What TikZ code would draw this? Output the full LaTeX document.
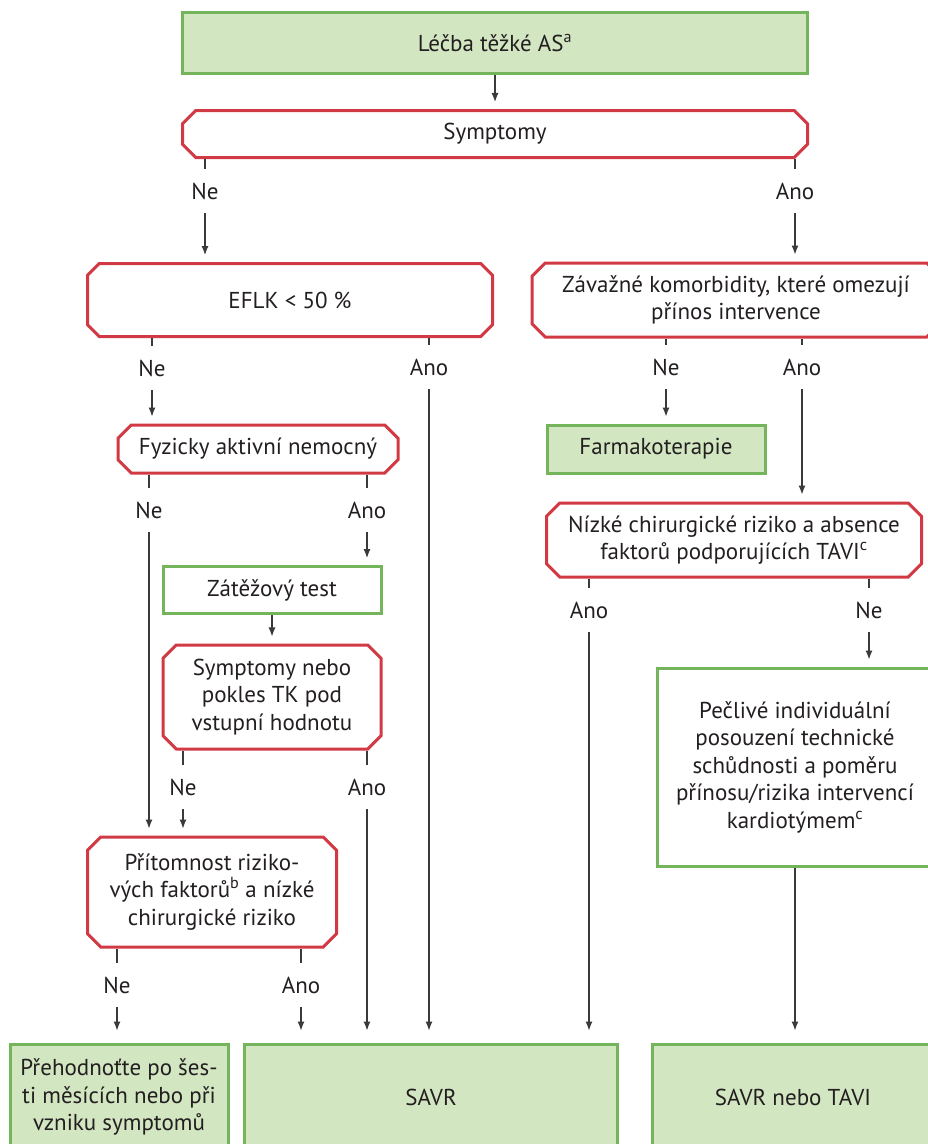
\documentclass[tikz,border=0pt]{standalone}
\usepackage{fontspec}
\setmainfont{PT Sans}
\usepackage{xcolor}
\usepackage{tikz}
\usetikzlibrary{shapes.misc,arrows.meta}
\definecolor{zelena}{HTML}{D3E6C2}
\definecolor{zelenacara}{HTML}{74B45A}
\definecolor{cervena}{HTML}{D13A44}
\definecolor{pismo}{HTML}{231F20}
\definecolor{cara}{HTML}{3A3A3A}
\tikzstyle{greenbox} = [draw=zelenacara, line width=3pt, rectangle, fill=zelena, align=center, inner sep=0pt, text=pismo]
\tikzstyle{whitebox} = [draw=zelenacara, line width=3pt, rectangle, fill=white, align=center, inner sep=0pt, text=pismo]
\tikzstyle{redbox} = [draw=cervena, line width=3pt, chamfered rectangle, chamfered rectangle xsep=10pt, fill=white, align=center, inner sep=0pt, text=pismo]
\tikzstyle{answer} = [minimum height=44pt, inner sep=0pt, text=pismo]
\tikzstyle{conn} = [draw=cara, line width=1.2pt]
\tikzstyle{arr} = [conn, -{Latex[length=9pt,width=7pt]}, shorten >=7pt]
\tikzstyle{arrlong} = [arr, shorten >=12pt]

\begin{document}
\begin{tikzpicture}[x=1pt, y=-1pt, font=\fontsize{23}{27.5}\selectfont]
	\useasboundingbox (0,0) rectangle (928,1144);
	% boxes
	\node [greenbox, minimum width=625pt, minimum height=61pt] (lecba) at (495,43) {Léčba těžké AS\textsuperscript{a}};
	\node [redbox, minimum width=625pt, minimum height=47pt] (sympt) at (495,134) {Symptomy};
	\node [redbox, minimum width=405pt, minimum height=73pt] (eflk) at (290,300) {EFLK < 50 \%};
	\node [redbox, minimum width=408pt, minimum height=74pt] (komorb) at (736,300) {Závažné komorbidity, které omezují\\přínos intervence};
	\node [redbox, minimum width=280pt, minimum height=48pt] (fyz) at (258,449) {Fyzicky aktivní nemocný};
	\node [greenbox, minimum width=218pt, minimum height=48pt] (farm) at (656,449) {Farmakoterapie};
	\node [redbox, minimum width=375pt, minimum height=74pt] (nizke) at (734,540) {Nízké chirurgické riziko a absence\\faktorů podporujících TAVI\textsuperscript{c}};
	\node [whitebox, minimum width=218pt, minimum height=47pt] (zatez) at (272,590) {Zátěžový test};
	\node [redbox, minimum width=218pt, minimum height=104pt] (symtk) at (272,697) {Symptomy nebo\\pokles TK pod\\vstupní hodnotu};
	\node [whitebox, minimum width=276pt, minimum height=198pt] (pecl) at (795,767) {Pečlivé individuální\\posouzení technické\\schůdnosti a poměru\\přínosu/rizika intervencí\\kardiotýmem\textsuperscript{c}};
	\node [redbox, minimum width=249pt, minimum height=110pt] (rizf) at (212,892) {Přítomnost riziko-\\vých faktorů\textsuperscript{b} a nízké\\chirurgické riziko};
	\node [greenbox, minimum width=218pt, minimum height=106pt] (preh) at (119,1097) {Přehodnoťte po šes-\\ti měsících nebo při\\vzniku symptomů};
	\node [greenbox, minimum width=373pt, minimum height=106pt] (savr) at (431,1097) {SAVR};
	\node [greenbox, minimum width=282pt, minimum height=106pt] (tavi) at (793,1097) {SAVR nebo TAVI};
	% odpovedi
	\node [answer] (symne) at (205,191) {Ne};
	\node [answer] (symano) at (795,191) {Ano};
	\node [answer] (eflkne) at (152,368) {Ne};
	\node [answer] (eflkano) at (429,367) {Ano};
	\node [answer] (komne) at (666,367) {Ne};
	\node [answer] (komano) at (802,367) {Ano};
	\node [answer] (fyzne) at (149,510) {Ne};
	\node [answer] (fyzano) at (367,510) {Ano};
	\node [answer] (nizano) at (589,610) {Ano};
	\node [answer] (nizne) at (869,610) {Ne};
	\node [answer] (tkne) at (183,787) {Ne};
	\node [answer] (tkano) at (367,787) {Ano};
	\node [answer] (rizne) at (117,985) {Ne};
	\node [answer] (rizano) at (301,985) {Ano};
	% spojnice
	\draw [arr] (lecba) -- (sympt);
	\draw [conn] (sympt.south -| symne) -- (symne.north);
	\draw [arr] (symne.south) -- (eflk.north -| symne);
	\draw [conn] (sympt.south -| symano) -- (symano.north);
	\draw [arr] (symano.south) -- (komorb.north -| symano);
	\draw [conn] (eflk.south -| eflkne) -- (eflkne.north);
	\draw [arr] (eflkne.south) -- (fyz.north -| eflkne);
	\draw [conn] (eflk.south -| eflkano) -- (eflkano.north);
	\draw [arrlong] (eflkano.south) -- (savr.north -| eflkano);
	\draw [conn] (komorb.south -| komne) -- (komne.north);
	\draw [arr] (komne.south) -- (farm.north -| komne);
	\draw [conn] (komorb.south -| komano) -- (komano.north);
	\draw [arr] (komano.south) -- (nizke.north -| komano);
	\draw [conn] (fyz.south -| fyzne) -- (fyzne.north);
	\draw [arr] (fyzne.south) -- (rizf.north -| fyzne);
	\draw [conn] (fyz.south -| fyzano) -- (fyzano.north);
	\draw [arr] (fyzano.south) -- (zatez.north -| fyzano);
	\draw [arr] (zatez) -- (symtk);
	\draw [conn] (nizke.south -| nizano) -- (nizano.north);
	\draw [arrlong] (nizano.south) -- (savr.north -| nizano);
	\draw [conn] (nizke.south -| nizne) -- (nizne.north);
	\draw [arr] (nizne.south) -- (pecl.north -| nizne);
	\draw [arrlong] (pecl.south) -- (tavi.north -| pecl.south);
	\draw [conn] (symtk.south -| tkne) -- (tkne.north);
	\draw [arr] (tkne.south) -- (rizf.north -| tkne);
	\draw [conn] (symtk.south -| tkano) -- (tkano.north);
	\draw [arrlong] (tkano.south) -- (savr.north -| tkano);
	\draw [conn] (rizf.south -| rizne) -- (rizne.north);
	\draw [arrlong] (rizne.south) -- (preh.north -| rizne);
	\draw [conn] (rizf.south -| rizano) -- (rizano.north);
	\draw [arrlong] (rizano.south) -- (savr.north -| rizano);
\end{tikzpicture}
\end{document}
